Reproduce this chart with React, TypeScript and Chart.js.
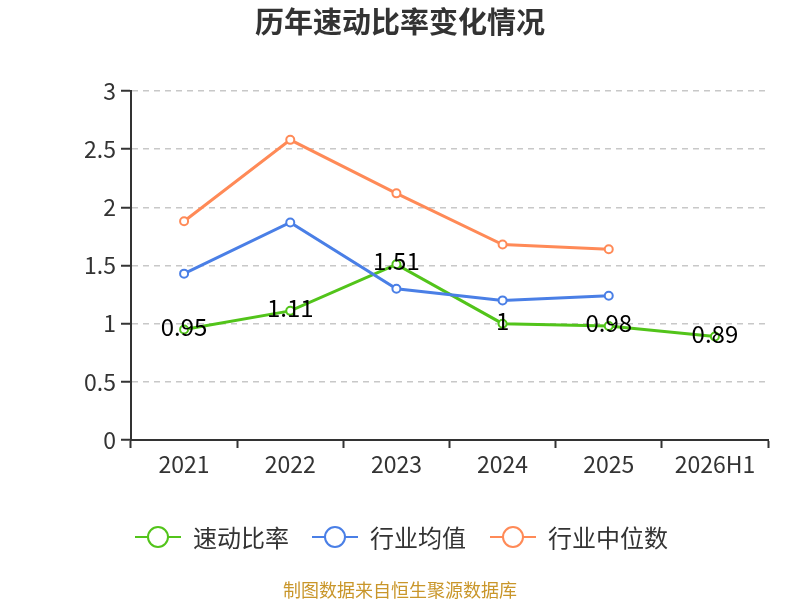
import { useEffect, useRef } from "react";
import { Chart, registerables } from "chart.js";

Chart.register(...registerables);

const years = ["2021", "2022", "2023", "2024", "2025", "2026H1"];
const quickRatio = [0.95, 1.11, 1.51, 1, 0.98, 0.89];
const industryAvg = [1.43, 1.87, 1.3, 1.2, 1.24, null];
const industryMedian = [1.88, 2.58, 2.12, 1.68, 1.64, null];
const seriesNames = ["速动比率", "行业均值", "行业中位数"];
const colors = ["#52c41a", "#4a7fe6", "#ff8a57"];

const FONT = '"Noto Sans CJK SC", "Noto Sans", sans-serif';

const extrasPlugin = {
  id: "extras",
  afterDraw(chart: any) {
    const ctx = chart.ctx;
    ctx.save();

    // title
    ctx.fillStyle = "#333";
    ctx.font = `bold 29px ${FONT}`;
    ctx.textAlign = "center";
    ctx.textBaseline = "middle";
    ctx.fillText("历年速动比率变化情况", 400, 22);

    // labels on the first series
    const meta = chart.getDatasetMeta(0);
    ctx.fillStyle = "#000";
    ctx.font = `24px ${FONT}`;
    meta.data.forEach((pt: any, i: number) => {
      ctx.fillText(String(quickRatio[i]), pt.x, pt.y - 3);
    });

    // legend
    const starts = [135, 312, 490];
    ctx.textAlign = "left";
    ctx.font = `24px ${FONT}`;
    seriesNames.forEach((name, i) => {
      const x = starts[i];
      const y = 537;
      ctx.strokeStyle = colors[i];
      ctx.lineWidth = 2;
      ctx.beginPath();
      ctx.moveTo(x, y);
      ctx.lineTo(x + 46, y);
      ctx.stroke();
      ctx.beginPath();
      ctx.arc(x + 23, y, 10, 0, Math.PI * 2);
      ctx.fillStyle = "#fff";
      ctx.fill();
      ctx.stroke();
      ctx.fillStyle = "#333";
      ctx.fillText(name, x + 58, y + 1);
    });

    // source
    ctx.textAlign = "center";
    ctx.fillStyle = "#c9962a";
    ctx.font = `18px ${FONT}`;
    ctx.fillText("制图数据来自恒生聚源数据库", 400, 590);

    ctx.restore();
  },
};

export default function App() {
  const canvasRef = useRef<HTMLCanvasElement | null>(null);

  useEffect(() => {
    document.body.style.margin = "0";
    if (!canvasRef.current) return;
    const ctx = canvasRef.current.getContext("2d");
    if (!ctx) return;

    const data = [quickRatio, industryAvg, industryMedian];
    const chart = new Chart(ctx, {
      type: "line",
      data: {
        labels: years,
        datasets: data.map((d, i) => ({
          label: seriesNames[i],
          data: d,
          borderColor: colors[i],
          backgroundColor: "#fff",
          pointBackgroundColor: "#fff",
          pointBorderColor: colors[i],
          pointBorderWidth: 2,
          pointRadius: 4,
          borderWidth: 3,
          tension: 0,
          spanGaps: false,
          order: 2 - i,
        })),
      },
      options: {
        responsive: false,
        animation: false,
        layout: { padding: { top: 91, right: 32, bottom: 110, left: 0 } },
        plugins: {
          legend: { display: false },
          tooltip: { enabled: false },
          title: { display: false },
        },
        scales: {
          x: {
            offset: true,
            grid: {
              offset: true,
              drawOnChartArea: false,
              drawTicks: true,
              tickLength: 8,
              tickColor: "#333",
              tickWidth: 2,
            },
            border: { display: true, color: "#333", width: 2 },
            ticks: {
              color: "#333",
              font: { family: FONT, size: 23 },
              padding: 2,
              maxRotation: 0,
            },
            afterFit(scale: any) {
              scale.height = 50;
            },
          },
          y: {
            min: 0,
            max: 3,
            ticks: {
              stepSize: 0.5,
              color: "#333",
              font: { family: FONT, size: 23 },
              padding: 5,
              callback: (v: any) => String(Number(v)),
            },
            grid: {
              color: "#c8c8c8",
              lineWidth: 1.5,
              tickLength: 10,
              tickColor: "#333",
              tickWidth: 2,
              tickBorderDash: [],
            },
            border: { display: true, color: "#333", width: 2, dash: [6, 5] },
            afterFit(scale: any) {
              scale.width = 131;
            },
          },
        },
      },
      plugins: [extrasPlugin],
    });

    return () => chart.destroy();
  }, []);

  return (
    <div style={{ width: 800, height: 600 }}>
      <canvas ref={canvasRef} width={800} height={600}></canvas>
    </div>
  );
}
